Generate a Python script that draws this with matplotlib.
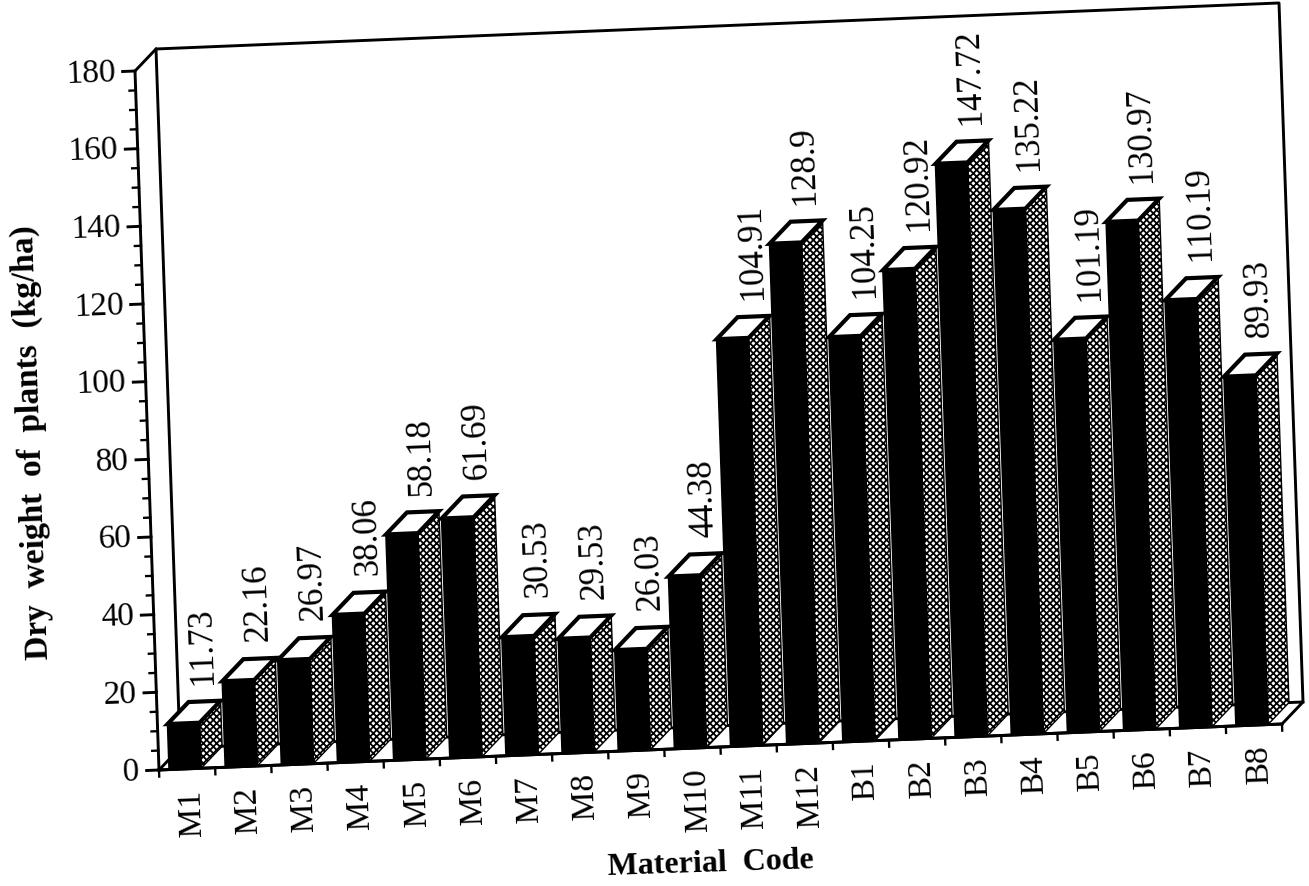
import matplotlib
matplotlib.use("Agg")
import matplotlib.pyplot as plt
from matplotlib.transforms import Affine2D

categories = ["M1", "M2", "M3", "M4", "M5", "M6", "M7", "M8", "M9", "M10", "M11", "M12",
              "B1", "B2", "B3", "B4", "B5", "B6", "B7", "B8"]
values = [11.73, 22.16, 26.97, 38.06, 58.18, 61.69, 30.53, 29.53, 26.03, 44.38, 104.91, 128.9,
          104.25, 120.92, 147.72, 135.22, 101.19, 130.97, 110.19, 89.93]
value_labels = ["11.73", "22.16", "26.97", "38.06", "58.18", "61.69", "30.53", "29.53", "26.03", "44.38",
                "104.91", "128.9", "104.25", "120.92", "147.72", "135.22", "101.19", "130.97", "110.19", "89.93"]
y_major = [0, 20, 40, 60, 80, 100, 120, 140, 160, 180]
y_minor = [v for v in range(0, 181, 5) if v % 20]

plt.rcParams["font.family"] = ["Liberation Serif", "DejaVu Serif"]
plt.rcParams["hatch.linewidth"] = 1.3

W, H = 1309, 887
fig = plt.figure(figsize=(W / 100, H / 100), dpi=100, facecolor="white")
ox, oy = 159, H - 771
ax = fig.add_axes([ox / W, oy / H, 1123 / W, 699 / H])
ax.set_xlim(0, 20)
ax.set_ylim(0, 180)
ax.axis("off")

shear = (Affine2D().translate(-ox, -oy)
         + Affine2D.from_values(1, 46 / 1123, -24 / 699, 1, 0, 0)
         + Affine2D().translate(ox, oy))
tr = ax.transData + shear

DU, DV = 0.387, 5.44          # oblique depth in data units
LEFT, BW = 0.18, 0.57         # bar offset and width
LW = 2.1
kw = dict(transform=tr, clip_on=False, solid_capstyle="projecting")

# walls and floor
ax.plot([DU, DU, 20 + DU, 20 + DU], [DV, 180 + DV, 180 + DV, DV], color="k", lw=LW, zorder=1, **kw)
ax.plot([0, DU, 20 + DU, 20, 0], [0, DV, DV, 0, 0], color="k", lw=LW, zorder=1, **kw)
ax.plot([0, 0, DU], [0, 180, 180 + DV], color="k", lw=LW, zorder=6, **kw)
ax.plot([0, 20], [0, 0], color="k", lw=LW, zorder=6, **kw)

# bars, drawn left to right so that each one hides the shading behind it
xs = [i + LEFT for i in range(len(values))]
ax.bar(xs, values, width=BW, align="edge", color="black", edgecolor="black", linewidth=1.2,
       transform=tr, clip_on=False, zorder=5)
for x, v in zip(xs, values):
    r = x + BW
    ax.fill([r, r + DU, r + DU, r], [0, DV, v + DV, v], facecolor="white", edgecolor="black",
            hatch="xxxxx", linewidth=1.0, transform=tr, clip_on=False, zorder=3)
    ax.fill([x, x + DU, r + DU, r], [v, v + DV, v + DV, v], facecolor="white", edgecolor="black",
            linewidth=3.0, transform=tr, clip_on=False, zorder=4)

# value labels
for x, v, s in zip(xs, values, value_labels):
    ax.text(x + BW / 2 + DU, v + DV + 4.6, s, rotation=92, rotation_mode="anchor", ha="left",
            va="center", fontsize=25, color="#000000", transform=tr, clip_on=False, zorder=7)

# y axis ticks and labels
for v in y_major:
    ax.plot([-0.22, 0], [v, v], color="k", lw=LW, zorder=6, **kw)
    ax.text(-0.35, v, str(v), rotation=2, rotation_mode="anchor", ha="right", va="center",
            fontsize=24, color="#000000", transform=tr, clip_on=False)
for v in y_minor:
    ax.plot([-0.11, 0], [v, v], color="k", lw=LW * 0.8, zorder=6, **kw)

# x axis ticks and labels
for i in range(len(categories) + 1):
    ax.plot([i, i], [0, -1.7], color="k", lw=LW * 0.8, zorder=6, **kw)
for i, c in enumerate(categories):
    ax.text(i + 0.56, -5.1, c, rotation=92, rotation_mode="anchor", ha="right", va="center",
            fontsize=24, color="#000000", transform=tr, clip_on=False)

fig.text(711 / W, 1 - 864 / H, "Material  Code", rotation=1.9, rotation_mode="anchor", ha="center",
         va="center", fontsize=23, fontweight="bold", color="#000000")
fig.text(32 / W, 1 - 442 / H, "Dry  weight  of  plants  (kg/ha)", rotation=92, rotation_mode="anchor",
         ha="center", va="center", fontsize=24, fontweight="bold", color="#000000")

fig.savefig("out.png", dpi=100, facecolor="white")
